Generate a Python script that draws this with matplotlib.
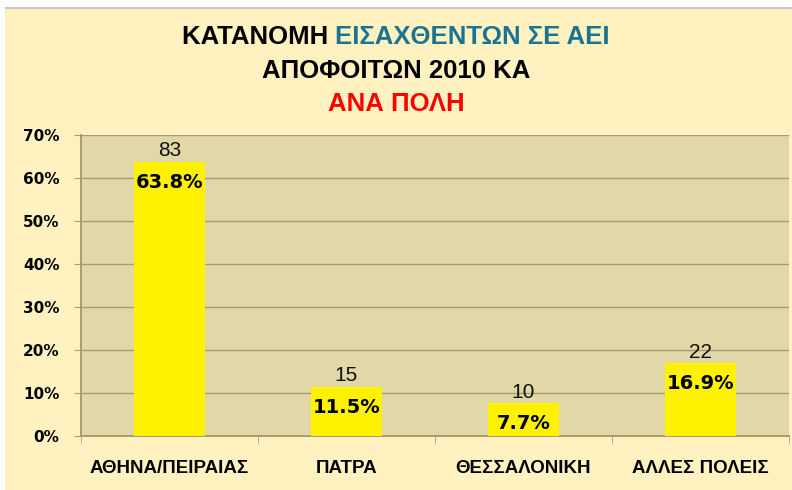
import matplotlib
matplotlib.use("Agg")
import matplotlib.pyplot as plt
from matplotlib.patches import Rectangle

categories = ["ΑΘΗΝΑ/ΠΕΙΡΑΙΑΣ", "ΠΑΤΡΑ", "ΘΕΣΣΑΛΟΝΙΚΗ", "ΑΛΛΕΣ ΠΟΛΕΙΣ"]
counts = [83, 15, 10, 22]
percents = [63.8, 11.5, 7.7, 16.9]
yticks = [0, 10, 20, 30, 40, 50, 60, 70]

narrow = ["Liberation Sans Narrow", "Liberation Sans", "DejaVu Sans"]

fig = plt.figure(figsize=(7.92, 4.90), dpi=100)
fig.patch.set_facecolor("#FFFFFF")
fig.patches.append(Rectangle((5/792, 0), 1, 1 - 9/490, transform=fig.transFigure,
                             facecolor="#FFF2C0", edgecolor="none", zorder=-10))
fig.patches.append(Rectangle((5/792, 1 - 9/490), 1, 1.5/490, transform=fig.transFigure,
                             facecolor="#C8C8C8", edgecolor="none", zorder=-9))

ax = fig.add_axes([81/792, (490-436)/490, (789-81)/792, (436-135)/490])
ax.set_facecolor("#E2D7A7")

x = list(range(len(categories)))
ax.bar(x, percents, width=0.4, color="#FFF200", zorder=3)
ax.set_xlim(-0.5, len(categories) - 0.5)
ax.set_ylim(0, 70)
ax.set_yticks(yticks)
ax.set_yticklabels([f"{v}%" for v in yticks], fontsize=11, fontweight="bold",
                   family="DejaVu Sans")
ax.set_xticks(x)
ax.set_xticklabels(categories, fontsize=13.5, fontweight="bold", family=narrow)
ax.tick_params(axis="x", length=0, pad=17)
ax.tick_params(axis="y", length=5, color="#A89B70", pad=10.5, direction="out")
ax.grid(axis="y", color="#A89B70", linewidth=1, zorder=1)
for s in ["top", "right"]:
    ax.spines[s].set_visible(False)
for s in ["left", "bottom"]:
    ax.spines[s].set_color("#A89B70")
    ax.spines[s].set_linewidth(1.4)
ax.set_xticks([i - 0.5 for i in range(len(categories) + 1)], minor=True)
ax.tick_params(axis="x", which="minor", length=5, color="#A89B70", direction="out")

for xi, c, p in zip(x, counts, percents):
    ax.annotate(f"{c}", (xi, p), xytext=(0, 1), textcoords="offset points",
                ha="center", va="bottom", fontsize=15, family=narrow, color="#111111", zorder=5)
    ax.annotate(f"{p:.1f}%", (xi, p), xytext=(0, -8), textcoords="offset points",
                ha="center", va="top", fontsize=14, fontweight="bold",
                family="DejaVu Sans", color="#000000", zorder=5)

fs = 18.5
t1a = fig.text(0.5, 1 - 37/490, "ΚΑΤΑΝΟΜΗ ", ha="left", va="center", fontsize=fs,
               fontweight="bold", family=narrow, color="#000000")
t1b = fig.text(0.5, 1 - 37/490, "ΕΙΣΑΧΘΕΝΤΩΝ ΣΕ ΑΕΙ", ha="left", va="center", fontsize=fs,
               fontweight="bold", family=narrow, color="#1B7393")
fig.canvas.draw()
r = fig.canvas.get_renderer()
w1 = t1a.get_window_extent(r).width
w2 = t1b.get_window_extent(r).width
start = 792 / 2 - (w1 + w2) / 2
t1a.set_x(start / 792)
t1b.set_x((start + w1) / 792)
fig.text(0.5, 1 - 71/490, "ΑΠΟΦΟΙΤΩΝ 2010 ΚΑ", ha="center", va="center", fontsize=fs,
         fontweight="bold", family=narrow, color="#000000")
fig.text(0.5, 1 - 104/490, "ΑΝΑ ΠΟΛΗ", ha="center", va="center", fontsize=fs,
         fontweight="bold", family=narrow, color="#FF0000")

fig.savefig("out.png", dpi=100, facecolor=fig.get_facecolor())
